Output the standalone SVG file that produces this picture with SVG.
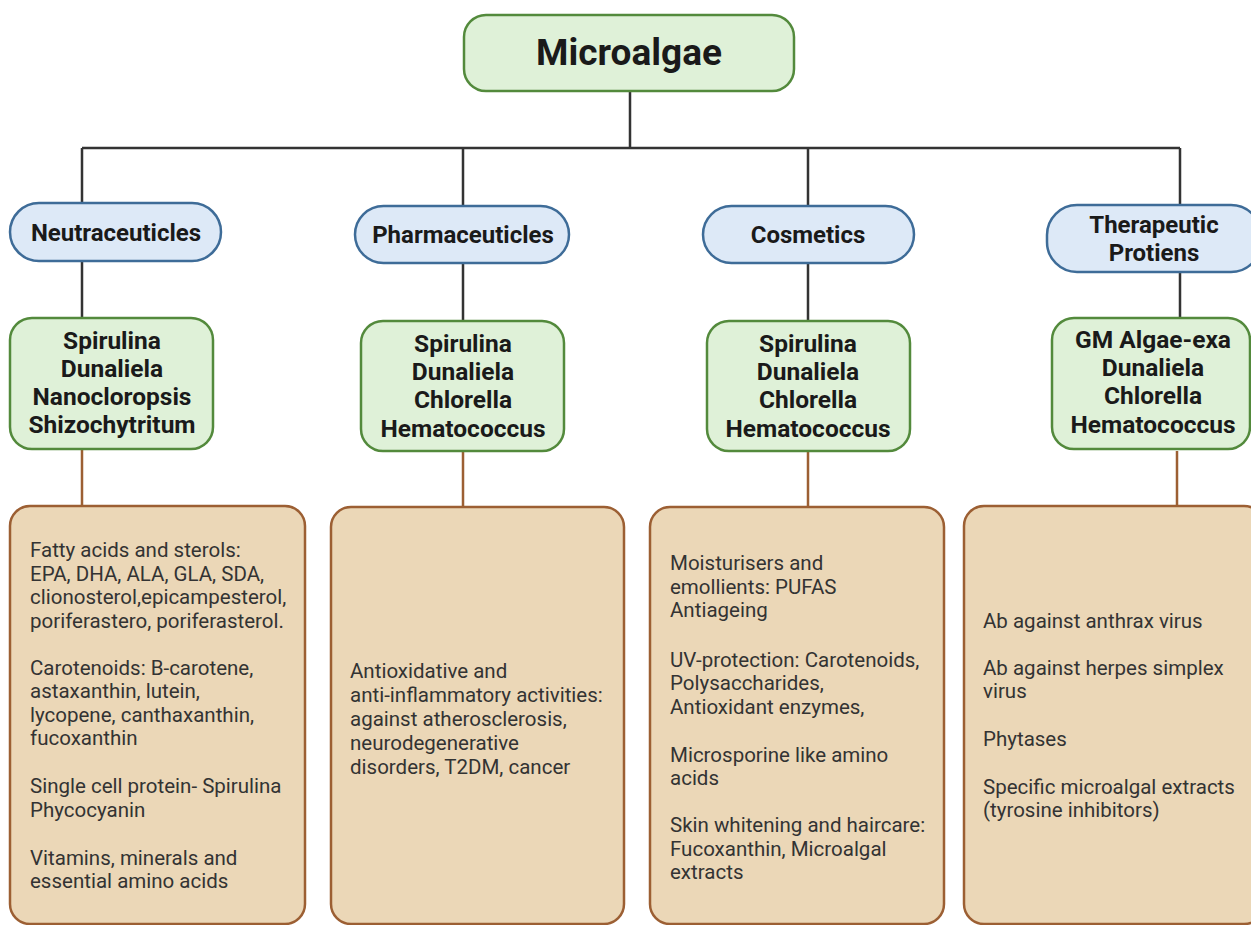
<svg xmlns="http://www.w3.org/2000/svg" width="1251" height="925" viewBox="0 0 1251 925">
<style>
.top{fill:#dff1d8;stroke:#538a3c;stroke-width:2.5}
.cat{fill:#dde9f7;stroke:#3e6c98;stroke-width:2.5}
.gen{fill:#dff1d8;stroke:#538a3c;stroke-width:2.5}
.box{fill:#ebd7b7;stroke:#9c5f33;stroke-width:2.5}
.hd{font-family:Roboto,"Liberation Sans",sans-serif;font-weight:bold;fill:#1a1a1a;text-anchor:middle}
.t1{font-size:37px}
.t2{font-size:24px}
.t3{font-size:24.5px}
.bd{font-family:Roboto,"Liberation Sans",sans-serif;font-size:20.5px;fill:#333}
.dk{stroke:#333;stroke-width:2.5;fill:none}
.br{stroke:#9c5f33;stroke-width:2.5;fill:none}
</style>
<rect width="1251" height="925" fill="#fff"/>
<g id="connectors">
<path class="dk" d="M630 92V148M82 148H1180M82 148V204M463 148V206M808 148V206M1180 148V205"/>
<path class="dk" d="M82 261V318M463 263V321M808 263V321M1180 272V318"/>
<path class="br" d="M82 449V506M463 451V507M808 451V507M1177 451V506"/>
</g>
<g id="microalgae">
<rect class="top" x="464" y="15" width="330" height="76" rx="22"/>
<text class="hd t1" x="629" y="65">Microalgae</text>
</g>
<g id="neutraceuticles">
<rect class="cat" x="10" y="203" width="211" height="58" rx="29"/>
<text class="hd t2" x="116" y="241">Neutraceuticles</text>
</g>
<g id="pharmaceuticles">
<rect class="cat" x="355" y="206" width="214" height="57" rx="28.5"/>
<text class="hd t2" x="463" y="243">Pharmaceuticles</text>
</g>
<g id="cosmetics">
<rect class="cat" x="703" y="206" width="211" height="57" rx="28.5"/>
<text class="hd t2" x="808" y="243">Cosmetics</text>
</g>
<g id="therapeutic">
<rect class="cat" x="1047" y="205" width="214" height="67" rx="30"/>
<text class="hd t2" x="1154" y="233">Therapeutic</text>
<text class="hd t2" x="1154" y="261">Protiens</text>
</g>
<g id="species-neutra">
<rect class="gen" x="10" y="318" width="203" height="131" rx="22"/>
<text class="hd t3" x="112" y="349">Spirulina</text>
<text class="hd t3" x="112" y="377">Dunaliela</text>
<text class="hd t3" x="112" y="405">Nanocloropsis</text>
<text class="hd t3" x="112" y="433">Shizochytritum</text>
</g>
<g id="species-pharma">
<rect class="gen" x="361" y="321" width="203" height="130" rx="22"/>
<text class="hd t3" x="463" y="352">Spirulina</text>
<text class="hd t3" x="463" y="380">Dunaliela</text>
<text class="hd t3" x="463" y="408">Chlorella</text>
<text class="hd t3" x="463" y="437">Hematococcus</text>
</g>
<g id="species-cosm">
<rect class="gen" x="707" y="321" width="203" height="130" rx="22"/>
<text class="hd t3" x="808" y="352">Spirulina</text>
<text class="hd t3" x="808" y="380">Dunaliela</text>
<text class="hd t3" x="808" y="408">Chlorella</text>
<text class="hd t3" x="808" y="437">Hematococcus</text>
</g>
<g id="species-thera">
<rect class="gen" x="1052" y="318" width="198" height="131" rx="22"/>
<text class="hd t3" x="1153" y="348">GM Algae-exa</text>
<text class="hd t3" x="1153" y="376">Dunaliela</text>
<text class="hd t3" x="1153" y="404">Chlorella</text>
<text class="hd t3" x="1153" y="433">Hematococcus</text>
</g>
<g id="uses-neutra">
<rect class="box" x="10" y="506" width="295" height="418" rx="20"/>
<text class="bd" x="30" y="557">Fatty acids and sterols:</text>
<text class="bd" x="30" y="581">EPA, DHA, ALA, GLA, SDA,</text>
<text class="bd" x="30" y="604">clionosterol,epicampesterol,</text>
<text class="bd" x="30" y="628">poriferastero, poriferasterol.</text>
<text class="bd" x="30" y="675">Carotenoids: B-carotene,</text>
<text class="bd" x="30" y="698">astaxanthin, lutein,</text>
<text class="bd" x="30" y="722">lycopene, canthaxanthin,</text>
<text class="bd" x="30" y="745">fucoxanthin</text>
<text class="bd" x="30" y="793">Single cell protein- Spirulina</text>
<text class="bd" x="30" y="817">Phycocyanin</text>
<text class="bd" x="30" y="865">Vitamins, minerals and</text>
<text class="bd" x="30" y="888">essential amino acids</text>
</g>
<g id="uses-pharma">
<rect class="box" x="331" y="507" width="293" height="417" rx="20"/>
<text class="bd" x="350" y="678">Antioxidative and</text>
<text class="bd" x="350" y="702">anti-inflammatory activities:</text>
<text class="bd" x="350" y="726">against atherosclerosis,</text>
<text class="bd" x="350" y="750">neurodegenerative</text>
<text class="bd" x="350" y="774">disorders, T2DM, cancer</text>
</g>
<g id="uses-cosm">
<rect class="box" x="650" y="507" width="294" height="417" rx="20"/>
<text class="bd" x="670" y="570">Moisturisers and</text>
<text class="bd" x="670" y="594">emollients: PUFAS</text>
<text class="bd" x="670" y="617">Antiageing</text>
<text class="bd" x="670" y="667">UV-protection: Carotenoids,</text>
<text class="bd" x="670" y="690">Polysaccharides,</text>
<text class="bd" x="670" y="714">Antioxidant enzymes,</text>
<text class="bd" x="670" y="762">Microsporine like amino</text>
<text class="bd" x="670" y="785">acids</text>
<text class="bd" x="670" y="832">Skin whitening and haircare:</text>
<text class="bd" x="670" y="856">Fucoxanthin, Microalgal</text>
<text class="bd" x="670" y="879">extracts</text>
</g>
<g id="uses-thera">
<rect class="box" x="964" y="506" width="300" height="418" rx="20"/>
<text class="bd" x="983" y="628">Ab against anthrax virus</text>
<text class="bd" x="983" y="675">Ab against herpes simplex</text>
<text class="bd" x="983" y="698">virus</text>
<text class="bd" x="983" y="746">Phytases</text>
<text class="bd" x="983" y="794">Specific microalgal extracts</text>
<text class="bd" x="983" y="817">(tyrosine inhibitors)</text>
</g>
</svg>
